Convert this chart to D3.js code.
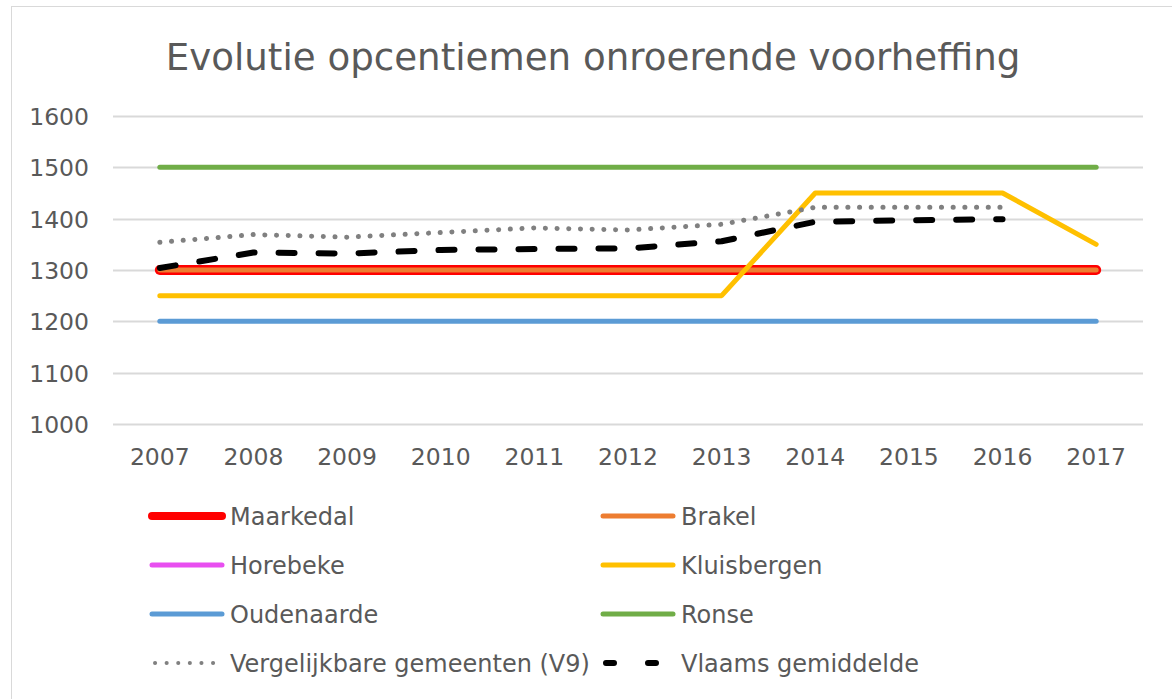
<!DOCTYPE html>
<html lang="nl">
<head>
<meta charset="utf-8">
<title>Evolutie opcentiemen onroerende voorheffing</title>
<script src="https://cdn.jsdelivr.net/npm/d3@7"></script>
<style>
  body { margin: 0; background: #fff; }
  text { font-family: "DejaVu Sans", Verdana, sans-serif; fill: #595959; }
</style>
</head>
<body>
<script>
// data
var years = ["2007","2008","2009","2010","2011","2012","2013","2014","2015","2016","2017"];
var yTicks = [1000, 1100, 1200, 1300, 1400, 1500, 1600];

var horebeke    = [1300,1300,1300,1300,1300,1300,1300,1300,1300,1300,1300];
var maarkedal   = [1300,1300,1300,1300,1300,1300,1300,1300,1300,1300,1300];
var brakel      = [1300,1300,1300,1300,1300,1300,1300,1300,1300,1300,1300];
var kluisbergen = [1250,1250,1250,1250,1250,1250,1250,1450,1450,1450,1350];
var oudenaarde  = [1200,1200,1200,1200,1200,1200,1200,1200,1200,1200,1200];
var ronse       = [1500,1500,1500,1500,1500,1500,1500,1500,1500,1500,1500];
var v9          = [1354,1369,1364,1373,1382,1378,1389,1422,1422,1422,null];
var vlaams      = [1304,1334,1332,1339,1341,1342,1356,1394,1397,1399,null];

var w = 1172, h = 699;

var svg = d3.select("body").append("svg")
    .attr("width", w)
    .attr("height", h);

// chart frame
svg.append("rect")
    .attr("x", 11.5).attr("y", 6.5)
    .attr("width", 1175).attr("height", 710)
    .attr("fill", "none")
    .attr("stroke", "#d9d9d9")
    .attr("stroke-width", 1);

var x = d3.scaleBand().domain(years).range([113, 1143]);
var y = d3.scaleLinear().domain([1000, 1600]).range([424, 116]);

// title
svg.append("text")
    .attr("x", 593).attr("y", 70)
    .attr("text-anchor", "middle")
    .attr("font-size", "37.2px")
    .text("Evolutie opcentiemen onroerende voorheffing");

// gridlines
svg.selectAll("line.grid")
    .data(yTicks)
    .enter().append("line")
    .attr("class", "grid")
    .attr("x1", 113).attr("x2", 1143)
    .attr("y1", function(d) { return Math.round(y(d)) + 0.5; })
    .attr("y2", function(d) { return Math.round(y(d)) + 0.5; })
    .attr("stroke", "#d9d9d9")
    .attr("stroke-width", 2);

// y labels
svg.selectAll("text.ylab")
    .data(yTicks)
    .enter().append("text")
    .attr("class", "ylab")
    .attr("x", 89)
    .attr("y", function(d) { return y(d) + 9; })
    .attr("text-anchor", "end")
    .attr("font-size", "23.5px")
    .text(function(d) { return d; });

// x labels
svg.selectAll("text.xlab")
    .data(years)
    .enter().append("text")
    .attr("class", "xlab")
    .attr("x", function(d) { return x(d) + x.bandwidth() / 2; })
    .attr("y", 465)
    .attr("text-anchor", "middle")
    .attr("font-size", "23.5px")
    .text(function(d) { return d; });

var line = d3.line()
    .defined(function(d) { return d != null; })
    .x(function(d, i) { return x(years[i]) + x.bandwidth() / 2; })
    .y(function(d) { return y(d); });

var series = [
  { name: "Horebeke",    values: horebeke,    color: "#e84ff0", width: 5 },
  { name: "Maarkedal",   values: maarkedal,   color: "#ff0000", width: 10 },
  { name: "Brakel",      values: brakel,      color: "#ed7d31", width: 5 },
  { name: "Oudenaarde",  values: oudenaarde,  color: "#5b9bd5", width: 5 },
  { name: "Ronse",       values: ronse,       color: "#70ad47", width: 5 },
  { name: "Kluisbergen", values: kluisbergen, color: "#ffc000", width: 5 },
  { name: "Vergelijkbare gemeenten (V9)", values: v9, color: "#808080", width: 5, dash: "0.1 11.6" },
  { name: "Vlaams gemiddelde", values: vlaams, color: "#000000", width: 6, dash: "16 24" }
];

svg.selectAll("path.series")
    .data(series)
    .enter().append("path")
    .attr("class", "series")
    .attr("d", function(d) { return line(d.values); })
    .attr("fill", "none")
    .attr("stroke", function(d) { return d.color; })
    .attr("stroke-width", function(d) { return d.width; })
    .attr("stroke-linecap", "round")
    .attr("stroke-linejoin", "round")
    .attr("stroke-dasharray", function(d) { return d.dash || null; });

// legend (order as in the original)
var legendOrder = ["Maarkedal", "Brakel", "Horebeke", "Kluisbergen", "Oudenaarde", "Ronse",
                   "Vergelijkbare gemeenten (V9)", "Vlaams gemiddelde"];
var legendItems = legendOrder.map(function(n) {
  return series.filter(function(s) { return s.name === n; })[0];
});

var leg = svg.selectAll("g.leg")
    .data(legendItems)
    .enter().append("g")
    .attr("class", "leg")
    .attr("transform", function(d, i) {
      return "translate(" + (i % 2 === 0 ? 152 : 603) + "," + (516 + Math.floor(i / 2) * 49) + ")";
    });

leg.append("line")
    .attr("x1", function(d) { return d.dash ? 3 : 0; })
    .attr("x2", 70)
    .attr("y1", 0).attr("y2", 0)
    .attr("stroke", function(d) { return d.color; })
    .attr("stroke-width", function(d) {
      if (d.name === "Maarkedal") return 8;
      if (d.name === "Vergelijkbare gemeenten (V9)") return 4;
      return d.width;
    })
    .attr("stroke-linecap", "round")
    .attr("stroke-dasharray", function(d) {
      if (!d.dash) return null;
      return d.name === "Vlaams gemiddelde" ? "8 34" : "0.1 11.5";
    });

leg.append("text")
    .attr("x", 78)
    .attr("y", 9)
    .attr("font-size", "24px")
    .text(function(d) { return d.name; });
</script>
</body>
</html>
